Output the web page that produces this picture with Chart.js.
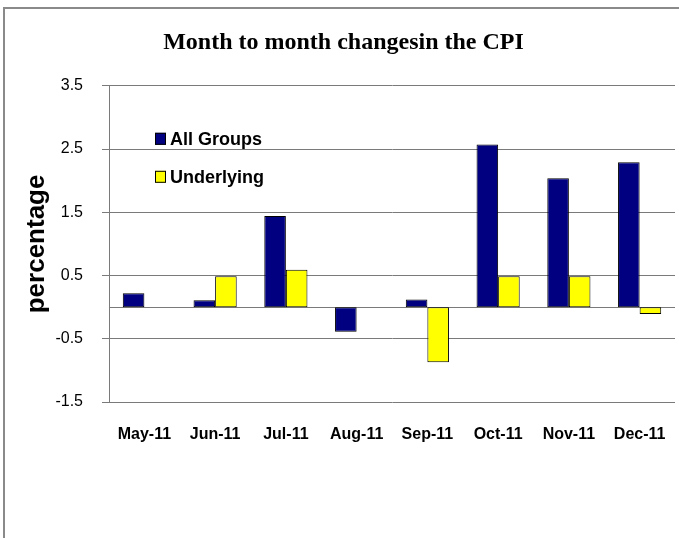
<!DOCTYPE html>
<html>
<head>
<meta charset="utf-8">
<script src="https://cdn.jsdelivr.net/npm/chart.js@4.4.1/dist/chart.umd.min.js"></script>
<style>
  html, body { margin: 0; padding: 0; background: #fff; }
  #wrap { position: relative; width: 679px; height: 538px; overflow: hidden; }
  #frame { position: absolute; left: 3px; top: 7px; width: 700px; height: 560px;
           border-left: 2px solid #8a8a8a; border-top: 2px solid #8a8a8a; pointer-events: none; }
  canvas { position: absolute; left: 0; top: 0; }
</style>
</head>
<body>
<div id="wrap">
  <canvas id="c" width="679" height="538"></canvas>
  <div id="frame"></div>
</div>
<script>
const titleText = "Month to month changesin the CPI";
const yAxisTitle = "percentage";
const categories = ["May-11", "Jun-11", "Jul-11", "Aug-11", "Sep-11", "Oct-11", "Nov-11", "Dec-11"];
const allGroups = [0.22, 0.11, 1.44, -0.39, 0.12, 2.57, 2.04, 2.29];
const underlying = [0, 0.49, 0.59, 0, -0.87, 0.49, 0.49, -0.11];
const yTicks = [-1.5, -0.5, 0.5, 1.5, 2.5, 3.5];
const seriesNames = ["All Groups", "Underlying"];
const seriesColors = ["#000080", "#FFFF00"];

const gridColor = "#7a7a7a";

const zeroLine = {
  id: "zeroLine",
  beforeDatasetsDraw(chart) {
    const y = chart.scales.y.getPixelForValue(0);
    const a = chart.chartArea;
    const ctx = chart.ctx;
    ctx.save();
    ctx.strokeStyle = gridColor;
    ctx.lineWidth = 1;
    ctx.beginPath();
    ctx.moveTo(a.left, Math.round(y) + 0.5);
    ctx.lineTo(a.right, Math.round(y) + 0.5);
    ctx.stroke();
    ctx.restore();
  }
};

const innerLegend = {
  id: "innerLegend",
  afterDraw(chart) {
    const a = chart.chartArea;
    const ctx = chart.ctx;
    ctx.save();
    ctx.font = "bold 18px 'Liberation Sans', Arial, sans-serif";
    ctx.textBaseline = "middle";
    ctx.textAlign = "left";
    chart.data.datasets.forEach((ds, i) => {
      const x = a.left + 46;
      const cy = a.top + 53 + i * 38;
      ctx.fillStyle = ds.backgroundColor;
      ctx.fillRect(x, cy - 6, 11, 12);
      ctx.strokeStyle = "#000";
      ctx.lineWidth = 1;
      ctx.strokeRect(x + 0.5, cy - 5.5, 10, 11);
      ctx.fillStyle = "#000";
      ctx.fillText(ds.label, x + 15, cy + 1);
    });
    ctx.restore();
  }
};

new Chart(document.getElementById("c"), {
  type: "bar",
  data: {
    labels: categories,
    datasets: [
      { label: seriesNames[0], data: allGroups, backgroundColor: seriesColors[0],
        borderColor: "#000", borderWidth: 1, borderSkipped: false },
      { label: seriesNames[1], data: underlying, backgroundColor: seriesColors[1],
        borderColor: "#000", borderWidth: 1, borderSkipped: false }
    ]
  },
  options: {
    responsive: false,
    animation: false,
    layout: { padding: { left: 12, right: 4, top: 0, bottom: 0 } },
    datasets: { bar: { categoryPercentage: 0.61, barPercentage: 1.0 } },
    plugins: {
      legend: { display: false },
      tooltip: { enabled: false },
      title: {
        display: true,
        text: titleText,
        color: "#000",
        font: { family: "'Liberation Serif', 'Times New Roman', serif", size: 24, weight: "bold", lineHeight: 1.2 },
        padding: { top: 28, bottom: 29 }
      }
    },
    scales: {
      x: {
        grid: { display: false, drawTicks: false },
        border: { display: false },
        ticks: { color: "#000", padding: 23, maxRotation: 0,
                 font: { family: "'Liberation Sans', Arial, sans-serif", size: 16, weight: "bold" } },
        afterFit(scale) { scale.height = 136; scale.paddingLeft = 0; scale.paddingRight = 0; }
      },
      y: {
        min: -1.5,
        max: 3.5,
        afterBuildTicks(scale) { scale.ticks = yTicks.map(v => ({ value: v })); },
        grid: { color: gridColor, lineWidth: 1, drawTicks: true, tickLength: 7 },
        border: { display: true, color: gridColor, width: 1 },
        ticks: { color: "#000", padding: 19,
                 callback: (v) => String(v),
                 font: { family: "'Liberation Sans', Arial, sans-serif", size: 16 } },
        title: { display: true, text: yAxisTitle, color: "#000", padding: { top: 9, bottom: 0 },
                 font: { family: "'Liberation Sans', Arial, sans-serif", size: 26, weight: "bold" } },
        afterFit(scale) { scale.width = 97; }
      }
    }
  },
  plugins: [zeroLine, innerLegend]
});
</script>
</body>
</html>
